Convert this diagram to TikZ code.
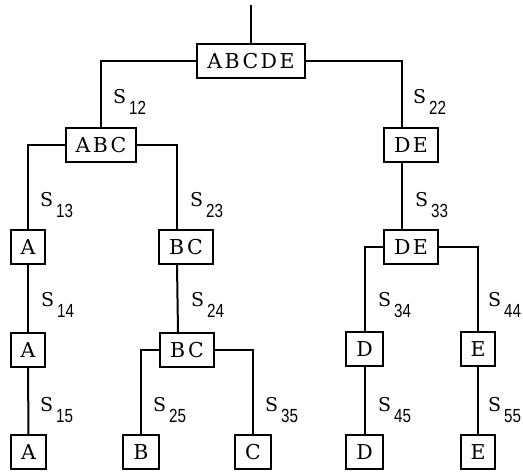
\documentclass[tikz,border=0pt]{standalone}
\usepackage{fontspec}
\newfontfamily\boxfont[LetterSpace=12]{DejaVu Serif}
\newfontfamily\sfont{DejaVu Serif}
\newfontfamily\subfont[FakeStretch=0.8]{Liberation Sans}
\newcommand{\slbl}[1]{S\kern3pt\raisebox{-11pt}{\subfont\fontsize{19}{22}\selectfont #1}}
\begin{document}
\begin{tikzpicture}[x=1pt,y=-1pt,
  blk/.style={draw,line width=2pt,inner xsep=10pt,inner ysep=0pt,minimum height=34pt,
    font=\boxfont\fontsize{20.5}{24}\selectfont},
  lbl/.style={anchor=base west,inner sep=0pt,font=\sfont\fontsize{19}{23}\selectfont},
  link/.style={line width=2pt}]
  \useasboundingbox (0,0) rectangle (523,473);
  % Boxes
  \foreach \name/\x/\y/\t in {abcde/251/61/ABCDE, abc/101/145/ABC, de1/411/145/DE,
      a1/28/247/A, bc1/186/247/BC, de2/411/247/DE,
      a2/28/350/A, bc2/187/350/BC, d1/364.5/349/D, e1/478/349/E,
      a3/28.5/452.5/A, b/141/452.5/B, c/253/452.5/C, d2/364.5/452.5/D, e2/478/452.5/E}
    \node[blk] (\name) at (\x,\y) {\t};
  % Connectors
  \coordinate (top) at (251,5);
  \draw[link] (top) -- (abcde.north);
  \draw[link] (abcde.west) -| (abc.north);
  \draw[link] (abcde.east) -| ([xshift=-9pt]de1.north);
  \draw[link] (abc.west) -| (a1.north);
  \draw[link] (abc.east) -| ([xshift=-9pt]bc1.north);
  \draw[link] ([xshift=-9pt]de1.south) -- ([xshift=-9pt]de2.north);
  \draw[link] (a1.south) -- (a2.north);
  \draw[link] (a2.south) -- (a3.north);
  \draw[link] ([xshift=-9pt]bc1.south) -- ([xshift=-9pt]bc2.north);
  \draw[link] (bc2.west) -| (b.north);
  \draw[link] (bc2.east) -| (c.north);
  \draw[link] (de2.west) -| (d1.north);
  \draw[link] (de2.east) -| (e1.north);
  \draw[link] (d1.south) -- (d2.north);
  \draw[link] (e1.south) -- (e2.north);
  % Labels
  \foreach \x/\y/\n in {113/104/12, 413/104/22, 40/207/13, 190/207/23, 415/207/33,
      41/307/14, 191/307/24, 378/307/34, 488/307/44,
      40/412/15, 153/412/25, 265/412/35, 378/412/45, 488/412/55}
    \node[lbl] (s\n) at (\x,\y) {\slbl{\n}};
\end{tikzpicture}
\end{document}
